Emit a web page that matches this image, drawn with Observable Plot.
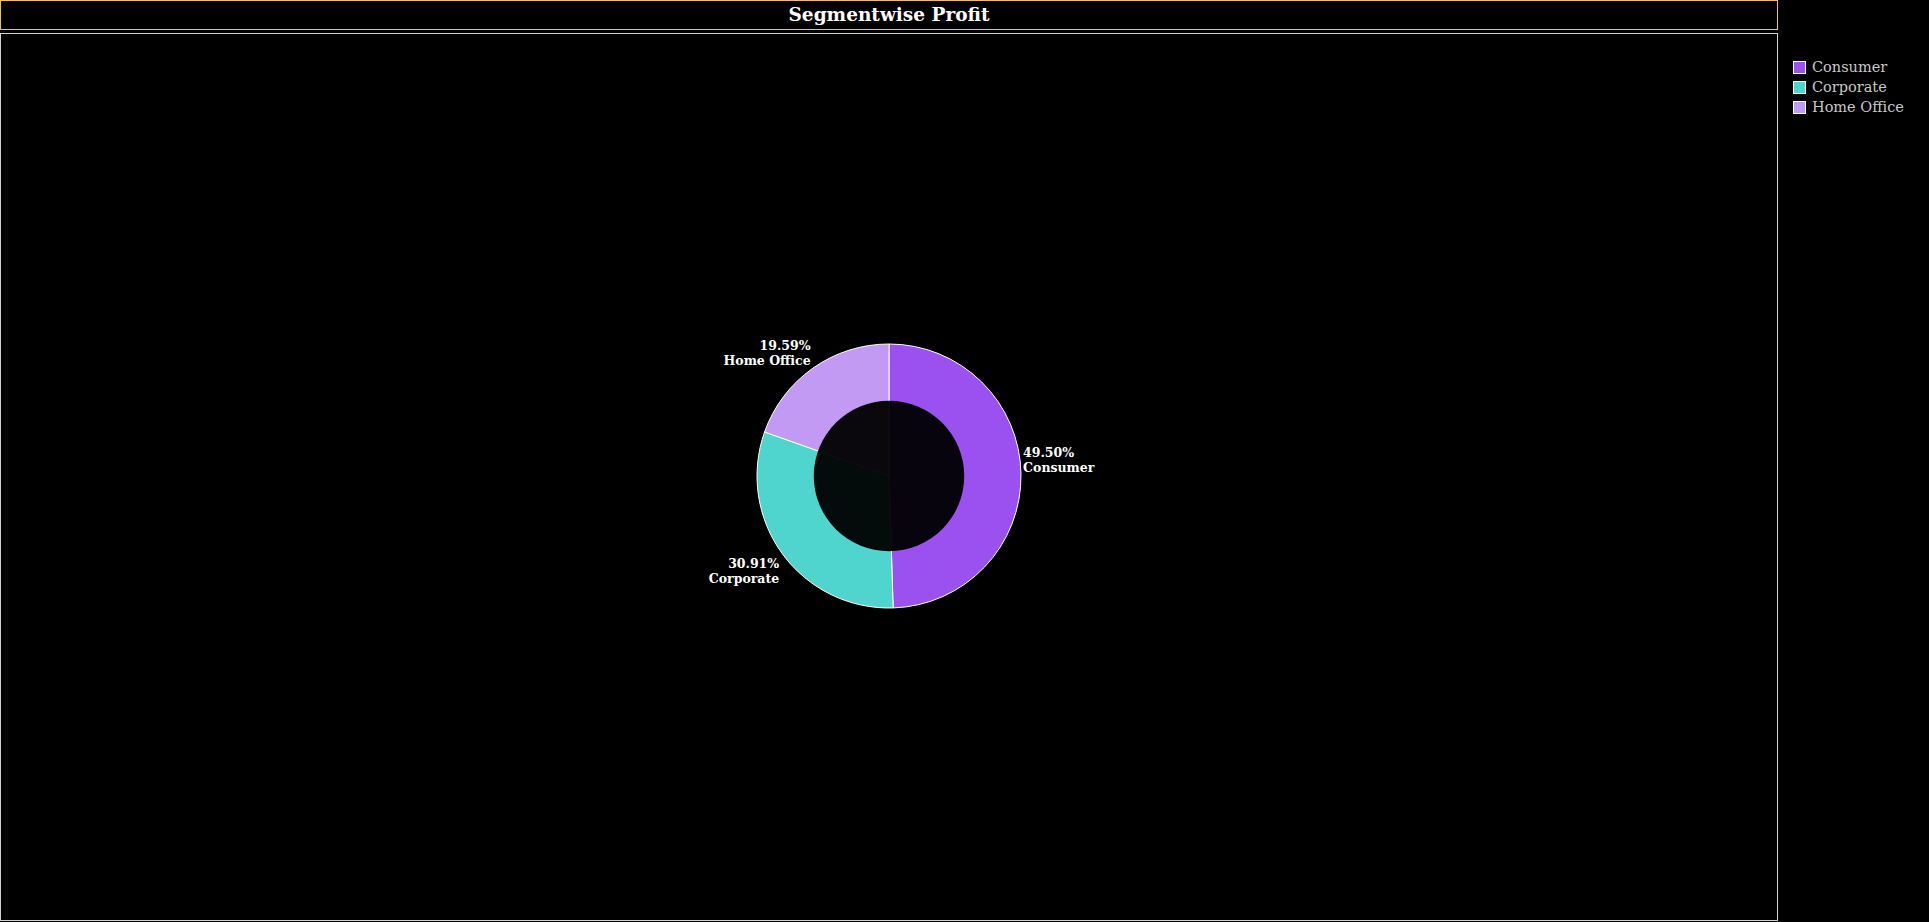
<!DOCTYPE html>
<html>
<head>
<meta charset="utf-8">
<script src="https://cdn.jsdelivr.net/npm/d3@7"></script>
<script src="https://cdn.jsdelivr.net/npm/@observablehq/plot@0.6"></script>
<style>
  html, body { margin: 0; padding: 0; background: #000; width: 1929px; height: 922px; overflow: hidden; }
  #title { position: absolute; left: 0; top: 0; width: 1776px; height: 28px; border: 1px solid #f2c14e;
    color: #fff; font-family: "DejaVu Serif", serif; font-weight: bold; font-size: 18.5px; line-height: 28px; text-align: center; }
  #chart { position: absolute; left: 0; top: 33px; width: 1776px; height: 886px; border: 1px solid #d0d0d0; }
  #legend { position: absolute; left: 1793px; top: 57px; font-family: "DejaVu Serif", serif; font-size: 14.5px; color: #c8c8c8; }
  .item { height: 20px; display: flex; align-items: center; }
  .sw { width: 11px; height: 11px; border: 1px solid #fff; margin-right: 6px; }
</style>
</head>
<body>
<div id="title">Segmentwise Profit</div>
<div id="chart"></div>
<div id="legend"></div>
<script>
const segments = ["Consumer", "Corporate", "Home Office"];
const shares = [49.50, 30.91, 19.59];
const colors = ["#9b50f0", "#4fd4ce", "#c29af3"];

const W = 1776, H = 886;
const data = segments.map((s, i) => ({segment: s, share: shares[i]}));
const pie = d3.pie().value(d => d.share).sort(null)(data);
const labelR = 1.035;
const labels = pie.map(p => {
  const a = (p.startAngle + p.endAngle) / 2;
  const lx = Math.sin(a) * labelR, ly = Math.cos(a) * labelR;
  return {
    segment: p.data.segment, share: p.data.share, x: lx, y: ly,
    text: p.data.share.toFixed(2) + "%\n" + p.data.segment,
    anchor: lx >= 0 ? "start" : "end",
    line: ly < -0.2 ? "top" : "bottom"
  };
});

const donut = (index, scales, values, dimensions) => {
  const cx = scales.x(0), cy = scales.y(0);
  const R = scales.x(1) - scales.x(0);
  const g = d3.create("svg:g");
  const arc = d3.arc().innerRadius(0).outerRadius(R);
  g.selectAll("path").data(pie).join("path")
    .attr("transform", `translate(${cx},${cy})`)
    .attr("d", arc)
    .attr("fill", d => scales.color(d.data.segment))
    .attr("stroke", "#fff").attr("stroke-width", 1);
  g.append("circle").attr("cx", cx).attr("cy", cy).attr("r", R * 0.57)
    .attr("fill", "#000").attr("fill-opacity", 0.95);
  return g.node();
};

const chart = Plot.plot({
  width: W, height: H,
  margin: 0,
  style: {background: "#000", color: "#fff"},
  x: {domain: [-1, 1], range: [W / 2 - 132, W / 2 + 132], axis: null},
  y: {domain: [-1, 1], range: [H / 2 + 132 - 1, H / 2 - 132 - 1], axis: null},
  color: {domain: segments, range: colors},
  marks: [
    donut,
    ...labels.map(l => Plot.text([l], {
      x: "x", y: "y", text: "text",
      textAnchor: l.anchor, lineAnchor: l.line,
      fill: "#fff", fontWeight: "bold", fontSize: 12.5,
      fontFamily: "DejaVu Serif", lineHeight: 1.2,
      dx: l.anchor === "start" ? -3 : 0,
      dy: l.anchor === "start" ? -2 : 0
    }))
  ]
});
document.getElementById("chart").appendChild(chart);

const legend = d3.select("#legend");
segments.forEach((s, i) => {
  const it = legend.append("div").attr("class", "item");
  it.append("div").attr("class", "sw").style("background", colors[i]);
  it.append("span").text(s);
});
</script>
</body>
</html>
